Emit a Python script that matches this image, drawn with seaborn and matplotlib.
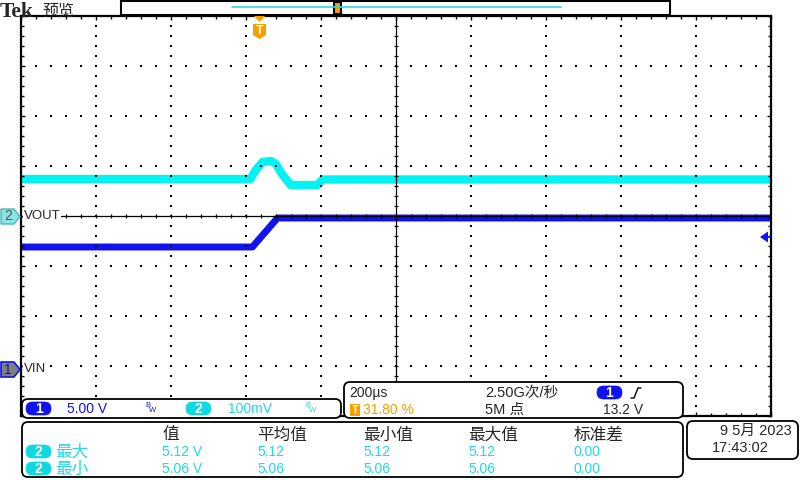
import numpy as np
import pandas as pd
import matplotlib
matplotlib.use('Agg')
import matplotlib.pyplot as plt
import seaborn as sns
from matplotlib.patches import FancyBboxPatch, Polygon, Rectangle
from matplotlib.ticker import MultipleLocator

# --- scope settings ---
time_per_div = 200      # us/div
trig_pos = 0.318        # 31.80 %
ch1_scale, ch1_offset = 5.0, -0.94   # V/div, marker position in div from bottom
ch2_scale, ch2_center = 0.1, 5.0     # V/div, V at screen centre

# --- traces (time in us relative to trigger) ---
ch1_t = [-636, -19, 48, 1364]
ch1_v = [12.2, 12.2, 15.1, 15.1]
ch2_t = [-636, -24, -10, 8, 30, 44, 60, 83, 155, 168, 1364]
ch2_v = [5.074, 5.074, 5.092, 5.108, 5.110, 5.104, 5.084, 5.062, 5.062, 5.073, 5.073]

# --- readouts ---
ch_scales = ['5.00 V', '100mV']
timebase = '200µs'
trig_text = '31.80 %'
sample_rate = '2.50G次/秒'
rec_len = '5M 点'
trig_level = '13.2 V'
meas_cols = ['值', '平均值', '最小值', '最大值', '标准差']
meas_rows = ['最大', '最小']
meas_vals = [['5.12 V', '5.12', '5.12', '5.12', '0.00'],
             ['5.06 V', '5.06', '5.06', '5.06', '0.00']]
date_str = '9 5月 2023'
time_str = '17:43:02'

BLUE = '#1212ee'
CYAN = '#00f4f4'
CYAN_TXT = '#22d8e2'
ORANGE = '#f5a000'

sns.set_style('white')
plt.rcParams['font.family'] = ['Liberation Sans', 'Noto Sans CJK SC', 'DejaVu Sans']

fig = plt.figure(figsize=(8, 4.8), dpi=100)
fig.patch.set_facecolor('white')
rect = [21 / 800, 64 / 480, 750 / 800, 400 / 480]

xlim = (-trig_pos * 10 * time_per_div, (1 - trig_pos) * 10 * time_per_div)

# channel 1 (VIN)
ax1 = fig.add_axes(rect, zorder=1)
ax1.patch.set_visible(False)
df1 = pd.DataFrame({'t': ch1_t, 'v': ch1_v})
sns.lineplot(data=df1, x='t', y='v', ax=ax1, color=BLUE, lw=5,
             sort=False, estimator=None, legend=False)
ax1.set_xlim(xlim)
ax1.set_ylim(ch1_offset * ch1_scale, (8 + ch1_offset) * ch1_scale)
ax1.set_axis_off()

# channel 2 (VOUT)
ax2 = fig.add_axes(rect, zorder=2)
ax2.patch.set_visible(False)
df2 = pd.DataFrame({'t': ch2_t, 'v': ch2_v})
sns.lineplot(data=df2, x='t', y='v', ax=ax2, color=CYAN, lw=6,
             sort=False, estimator=None, legend=False)
ax2.set_xlim(xlim)
ax2.set_ylim(ch2_center - 4 * ch2_scale, ch2_center + 4 * ch2_scale)
ax2.set_axis_off()

# graticule
axg = fig.add_axes(rect, zorder=3)
axg.patch.set_visible(False)
axg.set_xlim(0, 10)
axg.set_ylim(0, 8)
for sp in axg.spines.values():
    sp.set_color('black')
    sp.set_linewidth(1.6)
axg.xaxis.set_major_locator(MultipleLocator(1))
axg.xaxis.set_minor_locator(MultipleLocator(0.2))
axg.yaxis.set_major_locator(MultipleLocator(1))
axg.yaxis.set_minor_locator(MultipleLocator(0.2))
axg.tick_params(which='both', direction='in', top=True, right=True,
                bottom=True, left=True, labelbottom=False, labelleft=False,
                color='black', width=1)
axg.tick_params(which='major', length=3)
axg.tick_params(which='minor', length=2)
sub = np.arange(1, 40) * 0.2
subx = np.arange(1, 50) * 0.2
gx, gy = [], []
for i in [1, 2, 3, 4, 6, 7, 8, 9]:
    gx += [i] * len(sub)
    gy += list(sub)
for j in [1, 2, 3, 5, 6, 7]:
    gx += list(subx)
    gy += [j] * len(subx)
axg.scatter(gx, gy, s=1.5, marker='s', color='black', linewidths=0)
axg.axhline(4, color='black', lw=0.9)
axg.axvline(5, color='black', lw=0.9)
axg.scatter(subx, [4] * len(subx), marker='|', s=12, color='black', linewidths=0.9)
axg.scatter([5] * len(sub), sub, marker='_', s=12, color='black', linewidths=0.9)

# overlay for readouts
ov = fig.add_axes([0, 0, 1, 1], zorder=4)
ov.patch.set_visible(False)
ov.set_xlim(0, 800)
ov.set_ylim(480, 0)
ov.set_axis_off()

CJK = ['Noto Sans CJK SC', 'DejaVu Sans']


def box(x, y, w, h, r=6, fc='white', ec='black', lw=1.3):
    ov.add_patch(FancyBboxPatch((x, y), w, h, boxstyle=f'round,pad=0,rounding_size={r}',
                                fc=fc, ec=ec, lw=lw, mutation_aspect=1))


def pill(x, y, label, fc):
    box(x, y, 25, 13, r=6.5, fc=fc, ec=fc, lw=0.5)
    ov.text(x + 12.5, y + 7, label, color='white', fontsize=10, fontweight='bold',
            ha='center', va='center')


# header
ov.text(0, 17, 'Tek', fontsize=15.5, fontweight='bold', family='Liberation Serif',
        va='baseline', ha='left')
ov.text(42, 16, '预览', fontsize=11.5, family=CJK, va='baseline', ha='left')
ov.add_patch(Rectangle((121, 0.5), 549, 14.5, fc='white', ec='black', lw=1.5))
ov.plot([232, 561], [7, 7], color='#30d8d8', lw=1.2)
ov.add_patch(Rectangle((333.5, 1.5), 7, 12, fc=ORANGE, ec='black', lw=1.5))

# trigger position marker
ov.add_patch(Polygon([(254, 16), (265, 16), (259.5, 22)], closed=True, fc=ORANGE, ec='none'))
ov.add_patch(Polygon([(253, 24), (266, 24), (266, 35), (259.5, 39), (253, 35)],
                     closed=True, fc=ORANGE, ec='none'))
ov.text(259.5, 30.5, 'T', color='white', fontsize=9, fontweight='bold',
        ha='center', va='center')

# channel markers
ov.add_patch(Polygon([(1, 209), (14, 209), (20, 216.5), (14, 224), (1, 224)],
                     closed=True, fc='#86e6e6', ec='#50b8b8', lw=1))
ov.text(8, 216.5, '2', color='#555555', fontsize=10, ha='center', va='center')
ov.text(24, 216, 'VOUT', fontsize=9.5, ha='left', va='center',
        bbox=dict(fc='white', ec='none', pad=0.5))
ov.add_patch(Polygon([(1, 362), (14, 362), (20, 369.5), (14, 377), (1, 377)],
                     closed=True, fc='#7f7f7f', ec=BLUE, lw=1.2))
ov.text(8, 369.5, '1', color='#1a1a90', fontsize=10, ha='center', va='center')
ov.text(24, 369, 'VIN', fontsize=9.5, ha='left', va='center',
        bbox=dict(fc='white', ec='none', pad=0.5))

# trigger level arrow
ov.add_patch(Polygon([(760, 237), (768, 231.5), (768, 242.5)], closed=True, fc=BLUE, ec='none'))
ov.plot([766, 771], [237, 237], color=BLUE, lw=1.2)

# channel scale box
box(22, 399, 319, 19)
pill(26, 402, '1', BLUE)
ov.text(67, 409, ch_scales[0], color=BLUE, fontsize=10, va='center')
ov.text(145, 405.5, 'B', color=BLUE, fontsize=5.5, va='center')
ov.text(149, 411, 'W', color=BLUE, fontsize=5.5, va='center')
pill(186, 402, '2', '#10d8e0')
ov.text(228, 409, ch_scales[1], color=CYAN_TXT, fontsize=10, va='center')
ov.text(305, 405.5, 'B', color=CYAN_TXT, fontsize=5.5, va='center')
ov.text(309, 411, 'W', color=CYAN_TXT, fontsize=5.5, va='center')

# timebase box
box(344, 382, 339, 36)
ov.text(349, 393, timebase, fontsize=10, va='center')
ov.add_patch(Rectangle((350, 404), 10, 12, fc=ORANGE, ec='none'))
ov.text(355, 410, 'T', color='white', fontsize=8, fontweight='bold', ha='center', va='center')
ov.text(363, 410, trig_text, color=ORANGE, fontsize=10, va='center')
ov.text(485, 393, sample_rate, fontsize=10.5, va='center')
ov.text(485, 410, rec_len, fontsize=10.5, va='center')
pill(597, 386, '1', BLUE)
ov.plot([631, 634, 638, 641], [398, 398, 388, 388], color='black', lw=1)
ov.text(603, 410, trig_level, fontsize=10, va='center')

# measurement box
box(22, 422, 661, 55)
col_x = [162, 257, 363, 468, 574]
for x, c in zip(col_x, meas_cols):
    ov.text(x, 435, c, fontsize=12, family=CJK, va='center')
for r, (name, vals) in enumerate(zip(meas_rows, meas_vals)):
    y = 452 + r * 17
    pill(26, y - 7, '2', '#10d8e0')
    ov.text(55, y, name, color=CYAN_TXT, fontsize=12, family=CJK, va='center')
    for x, v in zip(col_x, vals):
        ov.text(x, y, v, color=CYAN_TXT, fontsize=10, va='center')

# date box
box(687, 421, 111, 38)
ov.text(792, 431, date_str, fontsize=10.5, ha='right', va='center')
ov.text(712, 448, time_str, fontsize=10.5, va='center')

fig.savefig('out.png', dpi=100, facecolor='white')
